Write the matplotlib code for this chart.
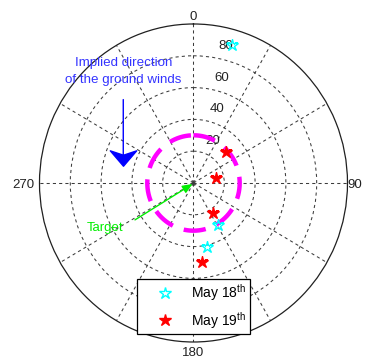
import numpy as np
import matplotlib
matplotlib.use("Agg")
import matplotlib.pyplot as plt
from matplotlib.path import Path
from matplotlib.transforms import offset_copy

plt.rcParams['font.family'] = ['Liberation Sans', 'DejaVu Sans']
plt.rcParams['mathtext.fontset'] = 'custom'
plt.rcParams['mathtext.rm'] = 'Liberation Sans'

# Bearings (degrees, clockwise from north) and ranges of the landings
may18_theta = [16, 149, 168]
may18_r = [90, 31, 41]
may19_theta = [47, 78, 146, 174]
may19_r = [29, 15, 23, 50]

# Radius of the target zone
target_radius = 30

ring_values = [20, 40, 60, 80]
r_max = 100
spoke_angles = list(range(0, 360, 30))
cardinal_labels = ['0', '90', '180', '270']
legend_labels = [r'May 18$^{\mathrm{th}}$', r'May 19$^{\mathrm{th}}$']

fig = plt.figure(figsize=(3.65, 3.58), dpi=100)
ax = fig.add_axes([0.1082, 0.0447, 0.8438, 0.8883], projection='polar')
ax.set_aspect('auto')
ax.set_theta_zero_location('N')
ax.set_theta_direction(-1)
ax.set_ylim(0, r_max)

grid_color = '#3c3c3c'
ax.set_thetagrids(spoke_angles, [''] * len(spoke_angles))
ax.set_rgrids(ring_values, [''] * len(ring_values))
ax.grid(True, color=grid_color, linestyle=(0, (3, 3)), linewidth=0.75)
ax.spines['polar'].set_color('#202020')
ax.spines['polar'].set_linewidth(0.9)

# Compass labels around the rim
card_pos = [(0.5, 1.0126, 'center', 'baseline'),
            (1.0, 0.484, 'left', 'baseline'),
            (0.5, -0.043, 'center', 'baseline'),
            (-0.016, 0.484, 'right', 'baseline')]
for lab, (x, y, ha, va) in zip(cardinal_labels, card_pos):
    ax.text(x, y, lab, transform=ax.transAxes, ha=ha, va=va,
            fontsize=9.5, color='#222222')

# Ring labels, just clockwise of north
lbl_tr = offset_copy(ax.transData, fig=fig, x=8, y=11, units='dots')
for v in ring_values:
    ax.text(np.deg2rad(8), v, str(v), transform=lbl_tr, ha='left', va='center',
            fontsize=9.5, color='#222222', zorder=2)

# Target zone
circ_t = np.linspace(0, 2 * np.pi, 400)
ax.plot(circ_t, np.full_like(circ_t, target_radius), color='#ff00ff',
        linewidth=3.2, linestyle=(0, (5, 2.6)), zorder=3)

# Landing points
ax.plot(np.deg2rad(may18_theta), may18_r, linestyle='none', marker='*',
        markersize=9, markerfacecolor='none', markeredgecolor='#00ffff',
        markeredgewidth=1.0, label=legend_labels[0], zorder=5)
ax.plot(np.deg2rad(may19_theta), may19_r, linestyle='none', marker='*',
        markersize=9, color='#ff0000', label=legend_labels[1], zorder=5)

# Ground-wind arrow
ax.annotate('', xy=(0.272, 0.567), xytext=(0.272, 0.771),
            xycoords='axes fraction', textcoords='axes fraction',
            arrowprops=dict(arrowstyle='-', color='#0000ff', lw=1.0))
head = Path([(0, -0.8), (-0.9, 0.25), (0, -0.05), (0.9, 0.25), (0, -0.8)],
            [Path.MOVETO, Path.LINETO, Path.LINETO, Path.LINETO, Path.CLOSEPOLY])
ax.plot([0.272], [0.59], transform=ax.transAxes, marker=head, markersize=19,
        color='#0000ff', linestyle='none', clip_on=False, zorder=6)
ax.text(0.273, 0.850, 'Implied direction\nof the ground winds',
        transform=ax.transAxes, ha='center', va='center', fontsize=9.6,
        color='#3333ff', linespacing=1.55)

# Target arrow
ax.annotate('', xy=(0.497, 0.497), xytext=(0.310, 0.384),
            xycoords='axes fraction', textcoords='axes fraction',
            arrowprops=dict(arrowstyle='-|>,head_length=0.6,head_width=0.25',
                            color='#00ee00', lw=1.0, shrinkA=0, shrinkB=0),
            zorder=6)
ax.text(0.272, 0.358, 'Target', transform=ax.transAxes, ha='right',
        va='center', fontsize=9.5, color='#00ee00')

leg = ax.legend(loc='lower left', bbox_to_anchor=(137 / 365, 1 - 334 / 358),
                bbox_transform=fig.transFigure, borderaxespad=0,
                fontsize=10, frameon=True, fancybox=False, framealpha=1,
                edgecolor='black', handlelength=3.6, handletextpad=0.05,
                borderpad=0.25, labelspacing=0.45)
leg.get_frame().set_linewidth(0.9)
leg.set_zorder(10)

fig.savefig('out.png', dpi=100)
